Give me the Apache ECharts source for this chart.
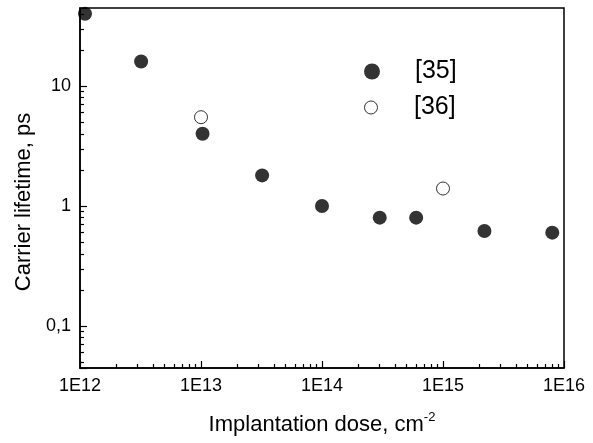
<!DOCTYPE html>
<html><head><meta charset="utf-8">
<script src="https://cdn.jsdelivr.net/npm/echarts@6/dist/echarts.min.js"></script>
<style>html,body{margin:0;padding:0;background:#fff}#c{width:593px;height:443px}</style>
</head><body><div id="c"></div>
<script>
// ---- data ----
const seriesNames = ['[35]', '[36]'];
const ref35Dose = [1.1e12, 3.2e12, 1.03e13, 3.2e13, 1e14, 3e14, 6e14, 2.2e15, 8e15];
const ref35Lifetime = [40, 16, 4, 1.8, 1, 0.8, 0.8, 0.62, 0.6];
const ref36Dose = [1e13, 1e15];
const ref36Lifetime = [5.5, 1.4];
const xRange = [1e12, 1e16];
const yRange = [0.0447, 44.7];
const xMinorTicks = [2e12,3e12,4e12,5e12,6e12,7e12,8e12,9e12,
                     2e13,3e13,4e13,5e13,6e13,7e13,8e13,9e13,
                     2e14,3e14,4e14,5e14,6e14,7e14,8e14,9e14,
                     2e15,3e15,4e15,5e15,6e15,7e15,8e15,9e15];
const yMinorTicks = [0.05,0.06,0.07,0.08,0.09,
                     0.2,0.3,0.4,0.5,0.6,0.7,0.8,0.9,
                     2,3,4,5,6,7,8,9,
                     20,30,40];

const FONT = 'Liberation Sans, Arial, sans-serif';
const isPow10 = v => { const e = Math.log10(v); return Math.abs(e - Math.round(e)) < 1e-6; };
const zip = (a, b) => a.map((v, i) => [v, b[i]]);

const chart = echarts.init(document.getElementById('c'), null, {renderer: 'canvas'});
const axisLineStyle = {color: '#000', width: 1.5};
const minorTickStyle = {color: '#000', width: 1.2};
chart.setOption({
  animation: false,
  backgroundColor: '#fff',
  textStyle: {fontFamily: FONT, color: '#000'},
  grid: {left: 80, right: 29, top: 8, bottom: 75, show: true, borderColor: '#000', borderWidth: 1.5,
         containLabel: false, outerBoundsMode: 'none'},
  legend: [
    {data: [seriesNames[0]], orient: 'vertical', left: 359, top: 54, itemWidth: 76, itemHeight: 16,
     textStyle: {fontSize: 25, color: '#000', fontFamily: FONT}, selectedMode: false},
    {data: [seriesNames[1]], orient: 'vertical', left: 359, top: 90, itemWidth: 76, itemHeight: 13,
     itemStyle: {borderWidth: 1, borderColor: '#000', color: '#fff'},
     textStyle: {fontSize: 25, color: '#000', fontFamily: FONT}, selectedMode: false}
  ],
  xAxis: [
    {type: 'log', logBase: 10, min: xRange[0], max: xRange[1], position: 'bottom',
     name: 'Implantation dose, cm{sup|-2}', nameLocation: 'middle', nameGap: 43,
     nameTextStyle: {fontSize: 22, lineHeight: 28, color: '#000', fontFamily: FONT,
       rich: {sup: {fontSize: 13, lineHeight: 13, verticalAlign: 'top', color: '#000', fontFamily: FONT}}},
     axisLine: {show: true, onZero: false, lineStyle: axisLineStyle},
     axisTick: {show: true, inside: true, length: 7, lineStyle: {color: '#000', width: 1.2}},
     minorTick: {show: false},
     splitLine: {show: false},
     axisLabel: {fontSize: 18, color: '#000', fontFamily: FONT, margin: 9,
       formatter: v => isPow10(v) ? '1E' + Math.round(Math.log10(v)) : ''}},
    {type: 'value', min: Math.log10(xRange[0]), max: Math.log10(xRange[1]), position: 'bottom',
     axisLine: {show: false, onZero: false}, splitLine: {show: false},
     axisLabel: {show: false, customValues: xMinorTicks.map(Math.log10)},
     axisTick: {show: true, inside: true, length: 4, customValues: xMinorTicks.map(Math.log10),
       lineStyle: minorTickStyle}}
  ],
  yAxis: [
    {type: 'log', logBase: 10, min: yRange[0], max: yRange[1], position: 'left',
     name: 'Carrier lifetime, ps', nameLocation: 'middle', nameGap: 40,
     nameTextStyle: {fontSize: 22, color: '#000', fontFamily: FONT, padding: [0, 28, 0, 0]},
     axisLine: {show: true, onZero: false, lineStyle: axisLineStyle},
     axisTick: {show: true, inside: true, length: 7, lineStyle: {color: '#000', width: 1.2}},
     minorTick: {show: false},
     splitLine: {show: false},
     axisLabel: {fontSize: 18, color: '#000', fontFamily: FONT, margin: 9,
       formatter: v => isPow10(v) ? (v < 1 ? String(v).replace('.', ',') : String(Math.round(v))) : ''}},
    {type: 'value', min: Math.log10(yRange[0]), max: Math.log10(yRange[1]), position: 'left',
     axisLine: {show: false, onZero: false}, splitLine: {show: false},
     axisLabel: {show: false, customValues: yMinorTicks.map(Math.log10)},
     axisTick: {show: true, inside: true, length: 4, customValues: yMinorTicks.map(Math.log10),
       lineStyle: minorTickStyle}}
  ],
  series: [
    {name: seriesNames[0], type: 'scatter', xAxisIndex: 0, yAxisIndex: 0, symbol: 'circle', symbolSize: 14,
     itemStyle: {color: '#000'}, data: zip(ref35Dose, ref35Lifetime), clip: false, z: 3},
    {name: seriesNames[1], type: 'scatter', xAxisIndex: 0, yAxisIndex: 0, symbol: 'circle', symbolSize: 13,
     itemStyle: {color: '#fff', borderColor: '#000', borderWidth: 1}, data: zip(ref36Dose, ref36Lifetime), clip: false, z: 3}
  ]
});
</script></body></html>
